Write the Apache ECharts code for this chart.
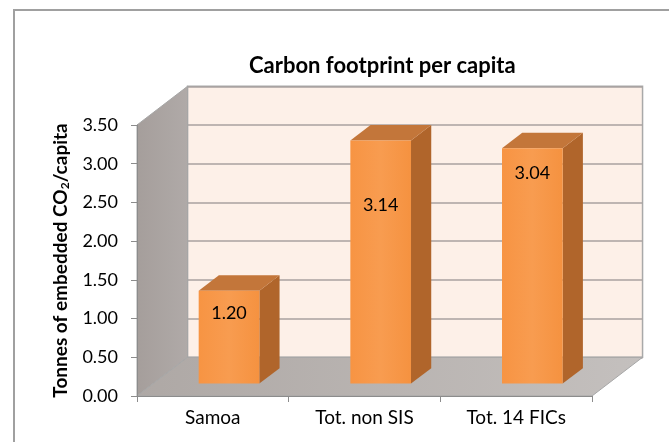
<!DOCTYPE html>
<html>
<head>
<meta charset="utf-8">
<script src="https://cdn.jsdelivr.net/npm/echarts@6/dist/echarts.min.js"></script>
<style>
  html, body { margin: 0; padding: 0; background: #fff; }
  #main { width: 669px; height: 442px; }
</style>
</head>
<body>
<div id="main"></div>
<script>
const categories = ['Samoa', 'Tot. non SIS', 'Tot. 14 FICs'];
const footprint = [1.20, 3.14, 3.04];
const yMin = 0;
const yMax = 3.5;
const yStep = 0.5;

const FONT = 'Lato, "Open Sans", sans-serif';
// 3D look: depth of the box as a share of a category band / in value units
const DEPTH_X = 1 / 3;
const DEPTH_Y = 0.5;
const labelDrop = [22, 65, 25]; // px below the bar top, as in the picture

const front = { left: 137, top: 125, width: 455, height: 271 };
const depthPx = { x: front.width / categories.length * DEPTH_X, y: front.height / ((yMax - yMin) / DEPTH_Y) };
const back = {
  left: front.left + depthPx.x,
  top: front.top - depthPx.y,
  width: front.width,
  height: front.height
};

const chart = echarts.init(document.getElementById('main'));

function renderFrame(params, api) {
  const bw = api.size([1, 0])[0];
  const dx = bw * DEPTH_X;
  const dy = api.size([0, DEPTH_Y])[1];
  const bl = api.coord([0, yMin]);
  const tl = api.coord([0, yMax]);
  const br = api.coord([categories.length - 1, yMin]);
  const xL = bl[0] - bw / 2, xR = br[0] + bw / 2, yB = bl[1], yT = tl[1];
  return {
    type: 'group',
    children: [
      {
        type: 'polygon',
        shape: { points: [[xL, yB], [xL, yT], [xL + dx, yT - dy], [xL + dx, yB - dy]] },
        style: {
          fill: new echarts.graphic.LinearGradient(0, 0, 1, 0, [
            { offset: 0, color: '#a59e9b' }, { offset: 1, color: '#b0aaa8' }
          ]),
          stroke: '#a6a6a6', lineWidth: 1
        }
      },
      {
        type: 'polygon',
        shape: { points: [[xL, yB], [xR, yB], [xR + dx, yB - dy], [xL + dx, yB - dy]] },
        style: {
          fill: new echarts.graphic.LinearGradient(0, 0, 1, 0, [
            { offset: 0, color: '#aea8a5' }, { offset: 1, color: '#c4c0be' }
          ]),
          stroke: '#a6a6a6', lineWidth: 1
        }
      }
    ]
  };
}

function renderBar(params, api) {
  const i = api.value(0);
  const v = api.value(1);
  const bw = api.size([1, 0])[0];
  const dx = bw * DEPTH_X;
  const dy = api.size([0, DEPTH_Y])[1];
  const c0 = api.coord([i, yMin]);
  const c1 = api.coord([i, v]);
  const ox = 0.32 * dx, oy = 0.32 * dy;
  const x0 = c0[0] - 0.2 * bw + ox;
  const x1 = x0 + 0.4 * bw;
  const yb = c0[1] - oy;
  const yt = c1[1] - oy;
  const bdx = 0.4 * dx, bdy = 0.4 * dy;
  return {
    type: 'group',
    children: [
      {
        type: 'polygon',
        shape: { points: [[x1, yt], [x1 + bdx, yt - bdy], [x1 + bdx, yb - bdy], [x1, yb]] },
        style: { fill: '#b0652b' }
      },
      {
        type: 'polygon',
        shape: { points: [[x0, yt], [x1, yt], [x1 + bdx, yt - bdy], [x0 + bdx, yt - bdy]] },
        style: { fill: '#c3763a' }
      },
      {
        type: 'rect',
        shape: { x: x0, y: yt, width: x1 - x0, height: yb - yt },
        style: {
          fill: new echarts.graphic.LinearGradient(0, 0, 1, 0, [
            { offset: 0, color: '#f79443' }, { offset: 0.5, color: '#f89c50' }, { offset: 1, color: '#f59240' }
          ])
        }
      },
      {
        type: 'text',
        style: {
          text: v.toFixed(2),
          x: (x0 + x1) / 2,
          y: yt + labelDrop[i],
          align: 'center',
          verticalAlign: 'middle',
          fontSize: 18,
          fontFamily: FONT,
          fill: '#000'
        }
      }
    ]
  };
}

const option = {
  animation: false,
  title: {
    text: 'Carbon footprint per capita',
    left: 244,
    top: 50,
    textStyle: { fontFamily: FONT, fontSize: 22, fontWeight: 'bold', color: '#000' }
  },
  graphic: [
    {
      type: 'rect',
      silent: true,
      shape: { x: 14, y: 10, width: 700, height: 500 },
      style: { fill: 'none', stroke: '#a0a0a0', lineWidth: 2 }
    }
  ],
  grid: [
    { left: front.left, top: front.top, width: front.width, height: front.height },
    {
      left: back.left, top: back.top, width: back.width, height: back.height,
      show: true, backgroundColor: '#fdf0e8', borderColor: '#a9a9a9', borderWidth: 1.5
    }
  ],
  xAxis: [
    {
      type: 'category',
      gridIndex: 0,
      data: categories,
      z: 5,
      axisLine: { lineStyle: { color: '#8c8c8c', width: 1 } },
      axisTick: { show: true, length: 6, lineStyle: { color: '#8c8c8c' } },
      axisLabel: { fontFamily: FONT, fontSize: 19, color: '#000', margin: 12 }
    },
    {
      type: 'category',
      gridIndex: 1,
      data: categories,
      show: false
    }
  ],
  yAxis: [
    {
      type: 'value',
      gridIndex: 0,
      min: yMin,
      max: yMax,
      interval: yStep,
      z: 5,
      splitLine: { show: false },
      axisLine: { show: true, lineStyle: { color: '#8c8c8c', width: 1 } },
      axisTick: { show: true, length: 6, lineStyle: { color: '#8c8c8c' } },
      axisLabel: {
        fontFamily: FONT, fontSize: 18, color: '#000', margin: 19,
        formatter: v => v.toFixed(2)
      },
      name: '{t|Tonnes of embedded CO}{s|2}{t|/capita}',
      nameLocation: 'middle',
      nameRotate: 90,
      nameGap: 61,
      nameTextStyle: {
        rich: {
          t: { fontFamily: FONT, fontSize: 19, fontWeight: 'bold', color: '#000' },
          s: { fontFamily: FONT, fontSize: 12, fontWeight: 'bold', color: '#000', verticalAlign: 'bottom', padding: [9, 0, 0, 0] }
        }
      }
    },
    {
      type: 'value',
      gridIndex: 1,
      min: yMin,
      max: yMax,
      interval: yStep,
      axisLine: { show: false },
      axisTick: { show: false },
      axisLabel: { show: false },
      splitLine: { show: true, lineStyle: { color: '#a8a2a0', width: 1.5 } }
    }
  ],
  series: [
    {
      type: 'custom',
      name: 'frame',
      xAxisIndex: 0,
      yAxisIndex: 0,
      z: 2,
      clip: false,
      silent: true,
      renderItem: renderFrame,
      data: [[0, 0]]
    },
    {
      type: 'custom',
      name: 'Carbon footprint per capita',
      xAxisIndex: 0,
      yAxisIndex: 0,
      z: 3,
      clip: false,
      renderItem: renderBar,
      encode: { x: 0, y: 1 },
      data: footprint.map((v, i) => [i, v])
    }
  ]
};

chart.setOption(option);
</script>
</body>
</html>
